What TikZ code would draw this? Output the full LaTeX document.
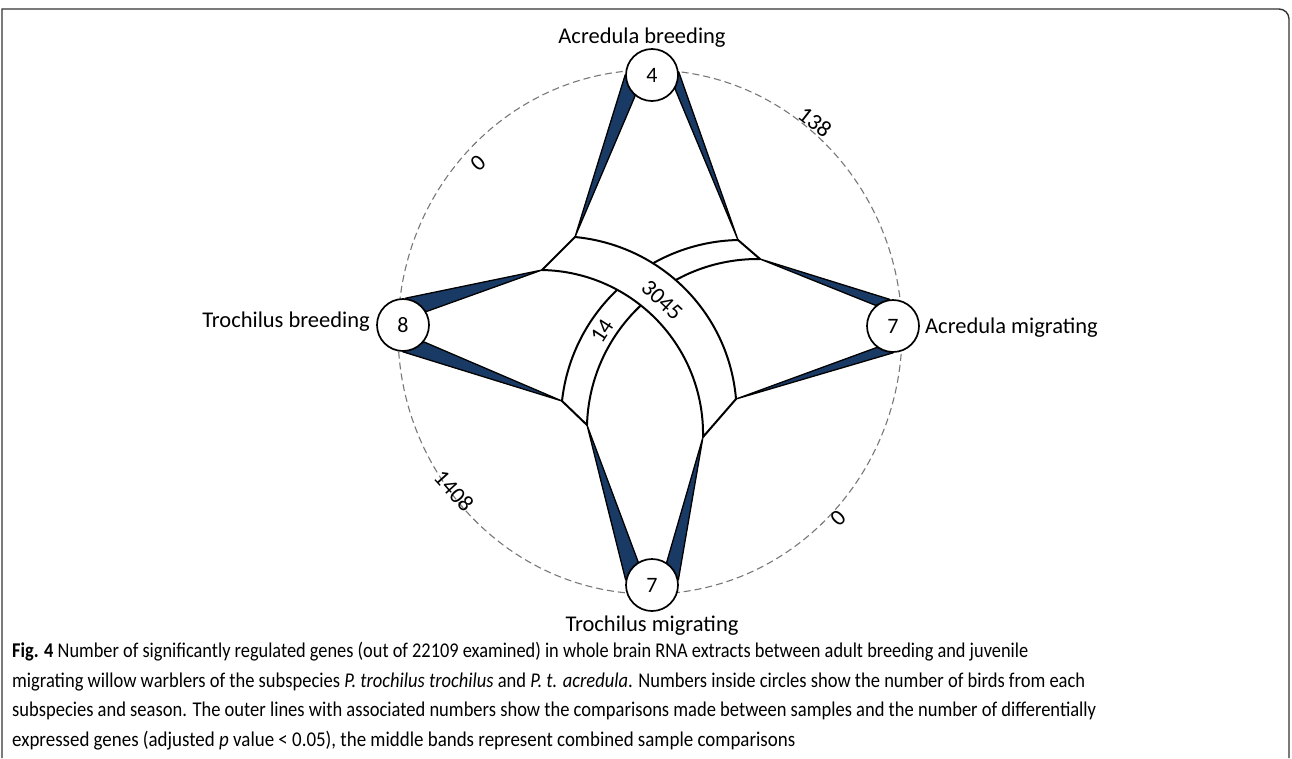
\documentclass[tikz,border=0pt]{standalone}
\usepackage{fontspec}
\setmainfont{Carlito}
\usepackage{graphicx}
\usetikzlibrary{calc}
\definecolor{navy}{RGB}{26,58,102}
\definecolor{dashgray}{RGB}{120,120,120}
\pgfdeclarelayer{bg}
\pgfsetlayers{bg,main}
\begin{document}
\begin{tikzpicture}[x=1pt,y=-1pt,
  bird/.style={circle,draw=black,fill=white,line width=1.7pt,minimum size=52pt,inner sep=0pt,font=\fontsize{22}{26}\selectfont},
  lab/.style={font=\fontsize{22.5}{27}\selectfont,inner sep=0pt},
  num/.style={font=\fontsize{23}{27}\selectfont,inner sep=0pt},
  band/.style={draw=black,fill=white,line width=2pt,line join=round},
  wedge/.style={fill=navy,draw=black,line width=1.3pt,line join=round},
  ring/.style={draw=dashgray,line width=1.1pt,dash pattern=on 7pt off 4pt},
  captxt/.style={anchor=base west,inner sep=0pt,font=\fontsize{21}{25}\selectfont},
  framebox/.style={draw=black!80,line width=1.4pt}
]
\useasboundingbox (0,0) rectangle (1292,758);

% bird nodes
\node[bird] (nT) at (652,75) {4};
\node[bird] (nL) at (403,325) {8};
\node[bird] (nR) at (893,326) {7};
\node[bird] (nB) at (652,585) {7};

% junctions
\coordinate (A) at (575,237);
\coordinate (B) at (542,270);
\coordinate (E) at (738,240);
\coordinate (F) at (760,259);
\coordinate (G) at (562,401);
\coordinate (H) at (587,425);
\coordinate (C) at (736,399);
\coordinate (D) at (703,437);

\begin{pgfonlayer}{bg}
\fill[white] (0,0) rectangle (1292,758);
\draw[framebox] (2,758) -- (2,9) -- (1279,9) arc[start angle=-90,end angle=0,radius=10] -- (1289,758);
\draw[ring] (650,332) ellipse [x radius=252,y radius=262];
\draw[band] (E) .. controls (647.3,242.0) and (572.0,310.8) .. (G) -- (H) .. controls (589.7,331.7) and (666.7,257.9) .. (F) -- cycle;
\draw[band] (A) .. controls (661.1,245.3) and (728.7,312.8) .. (C) -- (D) .. controls (704.7,346.4) and (632.6,271.7) .. (B) -- cycle;
\draw[wedge] (A) -- (nT.180) -- (nT.-129) -- cycle;
\draw[wedge] (E) -- (nT.7) -- (nT.-31) -- cycle;
\draw[wedge] (B) -- (nL.85) -- (nL.30) -- cycle;
\draw[wedge] (G) -- (nL.-90) -- (nL.-39) -- cycle;
\draw[wedge] (F) -- (nR.97) -- (nR.130) -- cycle;
\draw[wedge] (C) -- (nR.-90) -- (nR.-127) -- cycle;
\draw[wedge] (H) -- (nB.169) -- (nB.121) -- cycle;
\draw[wedge] (D) -- (nB.11) -- (nB.57) -- cycle;
\end{pgfonlayer}

% node labels
\node[lab,anchor=base] (tT) at (642,43) {Acredula breeding};
\node[lab,anchor=base east] (tL) at (370,327) {Trochilus breeding};
\node[lab,anchor=base west] (tR) at (925,333) {Acredula migrating};
\node[lab,anchor=base] (tB) at (652,631) {Trochilus migrating};

% comparison numbers
\node[num,rotate=42] (r1) at (478,163) {0};
\node[num,rotate=-38] (r2) at (815,122) {138};
\node[num,rotate=-48] (r3) at (454,491) {1408};
\node[num,rotate=45] (r4) at (838,518) {0};
\node[num,rotate=-43] (b1) at (662,300) {3045};
\node[num,rotate=57] (b2) at (602,331) {14};

% caption
\node[captxt] (c1) at (12,657) {\resizebox{1016pt}{\height}{\textbf{Fig. 4} Number of significantly regulated genes (out of 22109 examined) in whole brain RNA extracts between adult breeding and juvenile}};
\node[captxt] (c2) at (12,687) {\resizebox{1073pt}{\height}{migrating willow warblers of the subspecies \textit{P. trochilus trochilus} and \textit{P. t. acredula}. Numbers inside circles show the number of birds from each}};
\node[captxt] (c3) at (12,716) {\resizebox{1084pt}{\height}{subspecies and season. The outer lines with associated numbers show the comparisons made between samples and the number of differentially}};
\node[captxt] (c4) at (12,746) {\resizebox{783pt}{\height}{expressed genes (adjusted \textit{p} value < 0.05), the middle bands represent combined sample comparisons}};
\end{tikzpicture}
\end{document}
